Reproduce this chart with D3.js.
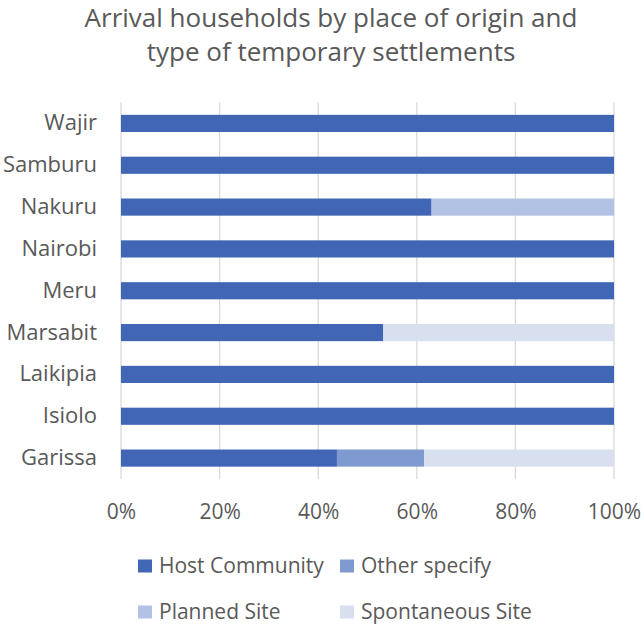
<!DOCTYPE html>
<html>
<head>
<meta charset="utf-8">
<script src="https://cdn.jsdelivr.net/npm/d3@7"></script>
<style>
  html, body { margin: 0; padding: 0; background: #ffffff; }
  svg text { font-family: "Open Sans", "Noto Sans", sans-serif; fill: #595959; }
</style>
</head>
<body>
<svg id="chart" width="641" height="629"></svg>
<script>
// Places of origin, listed top to bottom
const categories = ["Wajir", "Samburu", "Nakuru", "Nairobi", "Meru", "Marsabit", "Laikipia", "Isiolo", "Garissa"];
const seriesNames = ["Host Community", "Other specify", "Planned Site", "Spontaneous Site"];
// Share of arrival households (%) per settlement type
const hostCommunity   = [100, 100, 63, 100, 100, 53.2, 100, 100, 43.8];
const otherSpecify    = [0, 0, 0, 0, 0, 0, 0, 0, 17.7];
const plannedSite     = [0, 0, 37, 0, 0, 0, 0, 0, 0];
const spontaneousSite = [0, 0, 0, 0, 0, 46.8, 0, 0, 38.5];
const tickValues = [0, 20, 40, 60, 80, 100];
const colors = ["#4066b5", "#7f9ad0", "#b1c2e4", "#d8dfef"];

const svg = d3.select("#chart");
const margin = { left: 121, right: 27, top: 102.5, bottom: 150 };
const W = 641, H = 629;

const rows = categories.map((c, i) => ({
  cat: c,
  "Host Community": hostCommunity[i],
  "Other specify": otherSpecify[i],
  "Planned Site": plannedSite[i],
  "Spontaneous Site": spontaneousSite[i]
}));
const stacked = d3.stack().keys(seriesNames)(rows);

const x = d3.scaleLinear().domain([0, 100]).range([margin.left, W - margin.right]);
const y = d3.scaleBand().domain(categories).range([margin.top, 479]).paddingInner(0.59).paddingOuter(0.295);
const color = d3.scaleOrdinal().domain(seriesNames).range(colors);

// Title
svg.append("text")
  .attr("text-anchor", "middle")
  .style("font-size", "26px")
  .selectAll("tspan")
  .data(["Arrival households by place of origin and", "type of temporary settlements"])
  .join("tspan")
  .attr("x", 331)
  .attr("y", (d, i) => 27 + i * 34)
  .text(d => d);

// Vertical gridlines
svg.append("g")
  .selectAll("line")
  .data(tickValues)
  .join("line")
  .attr("x1", d => x(d)).attr("x2", d => x(d))
  .attr("y1", margin.top).attr("y2", 479)
  .attr("stroke", "#d9d9d9").attr("stroke-width", 1.3);

// Stacked bars
svg.append("g")
  .selectAll("g")
  .data(stacked)
  .join("g")
  .attr("fill", d => color(d.key))
  .selectAll("rect")
  .data(d => d)
  .join("rect")
  .attr("x", d => x(d[0]))
  .attr("y", d => y(d.data.cat))
  .attr("width", d => x(d[1]) - x(d[0]))
  .attr("height", y.bandwidth());

// Category axis
const yAxis = svg.append("g")
  .attr("transform", `translate(${margin.left},0)`)
  .call(d3.axisLeft(y).tickSize(0).tickPadding(24));
yAxis.select(".domain").remove();
yAxis.selectAll("text").style("font-size", "22px").attr("fill", "#595959");

// Percentage axis
const xAxis = svg.append("g")
  .attr("transform", "translate(0,479)")
  .call(d3.axisBottom(x).tickValues(tickValues).tickSize(0).tickPadding(25).tickFormat(d => d + "%"));
xAxis.select(".domain").remove();
xAxis.selectAll("text").style("font-size", "21px").attr("fill", "#595959");

// Legend
const legendPos = [[138, 566], [340, 566], [138, 612], [340, 612]];
const legend = svg.append("g")
  .selectAll("g")
  .data(seriesNames)
  .join("g")
  .attr("transform", (d, i) => `translate(${legendPos[i][0]},${legendPos[i][1]})`);
legend.append("rect")
  .attr("x", 0).attr("y", -6.5).attr("width", 14).attr("height", 13)
  .attr("fill", d => color(d));
legend.append("text")
  .attr("x", 21).attr("y", 0).attr("dy", "0.35em")
  .style("font-size", "21px")
  .text(d => d);
</script>
</body>
</html>
